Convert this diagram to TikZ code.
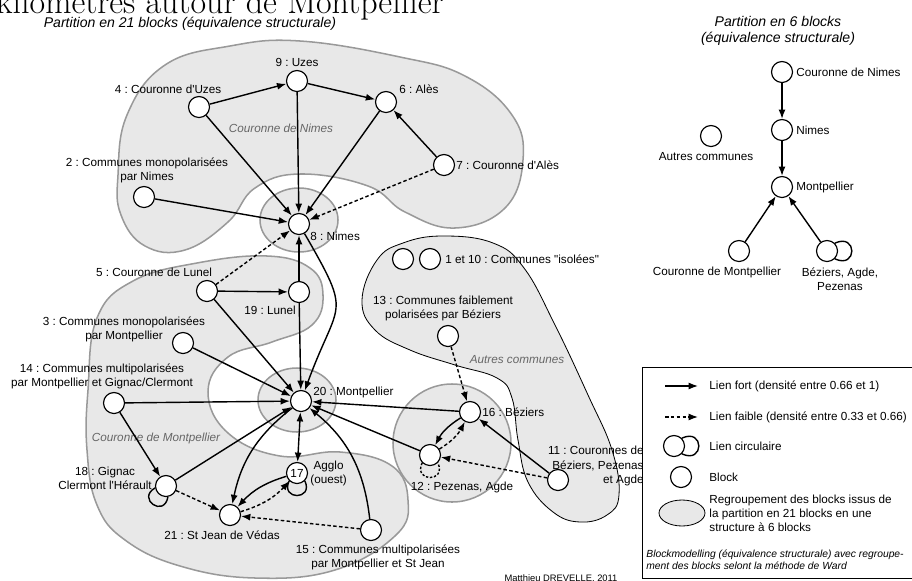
\documentclass[tikz,border=0pt]{standalone}
\usepackage{fontspec}
\setsansfont{Liberation Sans}[Ligatures=TeXOff]
\usetikzlibrary{arrows.meta, shapes.geometric}

\begin{document}
\frenchspacing
\begin{tikzpicture}[
    x=0.03cm, y=-0.03cm, >={Latex[length=2.8mm, width=2.1mm]},
    block/.style={circle, draw, line width=1pt, fill=white, minimum size=0.63cm, inner sep=0pt, font=\sffamily\fontsize{10}{12}\selectfont},
    lbl/.style={font=\sffamily\fontsize{10}{12}\selectfont, align=center, inner sep=1pt},
    grouplbl/.style={font=\sffamily\itshape\fontsize{10}{12}\selectfont, text=black!60, inner sep=1pt},
    strong/.style={->, line width=1.2pt},
    weak/.style={->, line width=1.2pt, dash pattern=on 3pt off 2pt},
    loopline/.style={line width=1.2pt},
    region/.style={fill=black!9, draw=black!40, line width=1.3pt}
]
\useasboundingbox (0,0) rectangle (912,580);

\node (titre) [anchor=base west, inner sep=0pt, font=\rmfamily\fontsize{29}{33}\selectfont] at (-4,13) {kilomètres autour de Montpellier};
\node (titre_21) [font=\sffamily\itshape\fontsize{12}{14}\selectfont] at (190,24) {Partition en 21 blocks (équivalence structurale)};

\draw[region] plot[smooth cycle, tension=0.7] coordinates {(118,175) (127,115) (165,65) (230,46) (300,41) (400,57) (465,76) (512,115) (523,160) (505,208) (455,228) (405,212) (368,186) (300,174) (255,188) (228,222) (185,250) (145,246) (121,215)};
\draw[region] plot[smooth cycle, tension=0.7] coordinates {(88,390) (97,318) (133,281) (197,263) (267,256) (310,268) (323,295) (312,325) (272,342) (228,357) (208,392) (228,433) (280,456) (340,452) (392,466) (408,500) (396,535) (335,570) (255,578) (180,566) (125,540) (97,505) (87,450)};
\draw[region, draw=black, line width=0.7pt] plot[smooth cycle, tension=0.7] coordinates {(362,300) (377,260) (403,243) (443,236) (493,243) (524,268) (555,325) (588,395) (612,450) (619,495) (607,515) (580,522) (553,512) (528,482) (518,440) (512,398) (497,378) (455,365) (410,350) (375,330)};
\draw[region] (299,220) ellipse [x radius=1.17cm, y radius=0.96cm];
\draw[region] (297,400) ellipse [x radius=1.17cm, y radius=0.96cm];
\draw[region] (452,443) circle [radius=1.77cm];

\node (lbl_couronne_nimes) [grouplbl] at (281,128) {Couronne de Nimes};
\node (lbl_couronne_montpellier) [grouplbl] at (156,438) {Couronne de Montpellier};
\node (lbl_autres) [grouplbl] at (517,360) {Autres communes};

\node (couronne_uzes) [block] at (199,107) {};
\node (uzes) [block] at (297,81) {};
\node (ales) [block] at (386,102) {};
\node (couronne_ales) [block] at (444,165) {};
\node (mono_nimes) [block] at (144,197) {};
\node (nimes) [block] at (299,224) {};
\node (couronne_lunel) [block] at (207,291) {};
\node (lunel) [block] at (299,292) {};
\node (mono_montpellier) [block] at (183,343) {};
\node (montpellier) [block] at (301,401) {};
\node (multi_gignac) [block] at (114,403) {};
\node (gignac) [block] at (166,486) {};
\node (agglo) [block] at (297,473) {17};
\node (st_jean) [block] at (230,515) {};
\node (multi_st_jean) [block] at (371,530) {};
\node (isolees_1) [block] at (403,259) {};
\node (isolees_10) [block] at (430,259) {};
\node (faible_beziers) [block] at (448,336) {};
\node (beziers) [block] at (470,412) {};
\node (pezenas) [block] at (430,455) {};
\node (couronnes_beziers) [block] at (558,480) {};

\node (lbl_uzes) [lbl] at (297,62) {9 : Uzes};
\node (lbl_couronne_uzes) [lbl] at (168,89) {4 : Couronne d'Uzes};
\node (lbl_ales) [lbl, anchor=west] at (398,89) {6 : Alès};
\node (lbl_couronne_ales) [lbl, anchor=west] at (455,165) {7 : Couronne d'Alès};
\node (lbl_mono_nimes) [lbl] at (147,170) {2 : Communes monopolarisées\\par Nimes};
\node (lbl_nimes) [lbl, anchor=west] at (309,236) {8 : Nimes};
\node (lbl_couronne_lunel) [lbl] at (154,272) {5 : Couronne de Lunel};
\node (lbl_lunel) [lbl] at (270,310) {19 : Lunel};
\node (lbl_mono_montpellier) [lbl] at (124,329) {3 : Communes monopolarisées\\par Montpellier};
\node (lbl_montpellier) [lbl, anchor=west] at (312,392) {20 : Montpellier};
\node (lbl_multi_gignac) [lbl] at (102,376) {14 : Communes multipolarisées\\par Montpellier et Gignac/Clermont};
\node (lbl_gignac) [lbl] at (105,478) {18 : Gignac\\Clermont l'Hérault};
\node (lbl_agglo) [lbl, anchor=west] at (309,473) {Agglo\\(ouest)};
\node (lbl_st_jean) [lbl] at (222,535) {21 : St Jean de Védas};
\node (lbl_multi_st_jean) [lbl] at (378,557) {15 : Communes multipolarisées\\par Montpellier et St Jean};
\node (lbl_isolees) [lbl, anchor=west] at (444,259) {1 et 10 : Communes "isolées"};
\node (lbl_faible_beziers) [lbl] at (443,308) {13 : Communes faiblement\\polarisées par Béziers};
\node (lbl_beziers) [lbl, anchor=west] at (481,412) {16 : Béziers};
\node (lbl_pezenas) [lbl] at (462,487) {12 : Pezenas, Agde};
\node (lbl_couronnes_beziers) [lbl, anchor=east, align=right] at (645,466) {11 : Couronnes de\\Béziers, Pezenas\\et Agde};

\draw[strong] (couronne_uzes) -- (uzes);
\draw[strong] (uzes) -- (ales);
\draw[strong] (couronne_ales) -- (ales);
\draw[strong] (couronne_uzes) -- (nimes);
\draw[strong] (uzes) -- (nimes);
\draw[strong] (ales) -- (nimes);
\draw[strong] (mono_nimes) -- (nimes);
\draw[weak] (couronne_ales) -- (nimes);
\draw[weak] (couronne_lunel) -- (nimes);
\draw[strong] (lunel) -- (nimes);
\draw[strong] (couronne_lunel) -- (lunel);
\draw[strong] (couronne_lunel) -- (montpellier);
\draw[strong] (lunel) -- (montpellier);
\draw[strong] (nimes) to[out=-60, in=70, looseness=1.6] (montpellier);
\draw[strong] (mono_montpellier) -- (montpellier);
\draw[strong] (multi_gignac) -- (montpellier);
\draw[strong] (multi_gignac) -- (gignac);
\draw[strong] (gignac) -- (montpellier);
\draw[weak] (gignac) -- (st_jean);
\draw[loopline] (gignac.190) .. controls +(210:0.65cm) and +(260:0.65cm) .. (gignac.280);
\draw[strong] (montpellier) to[bend right=20] (st_jean);
\draw[strong, <->] (montpellier) -- (agglo);
\draw[strong] (agglo) to[bend right=15] (st_jean);
\draw[weak] (st_jean) to[bend right=15] (agglo);
\draw[loopline] (agglo.225) .. controls +(245:0.65cm) and +(295:0.65cm) .. (agglo.315);
\draw[strong] (multi_st_jean) to[bend right=22] (montpellier);
\draw[weak] (multi_st_jean) -- (st_jean);
\draw[strong] (beziers) -- (montpellier);
\draw[strong] (pezenas) -- (montpellier);
\draw[weak] (faible_beziers) -- (beziers);
\draw[strong] (couronnes_beziers) -- (beziers);
\draw[weak] (couronnes_beziers) -- (pezenas);
\draw[strong] (beziers) to[bend right=15] (pezenas);
\draw[weak] (pezenas) to[bend right=15] (beziers);
\draw[loopline, dash pattern=on 2pt off 1.5pt] (pezenas.225) .. controls +(245:0.65cm) and +(295:0.65cm) .. (pezenas.315);

\node (titre_6) [lbl, font=\sffamily\itshape\fontsize{12}{14}\selectfont] at (778,31) {Partition en 6 blocks\\(équivalence structurale)};
\node (r_couronne_nimes) [block] at (782,72) {};
\node (r_nimes) [block] at (782,130) {};
\node (r_montpellier) [block] at (782,187) {};
\node (r_autres) [block] at (711,136) {};
\node (r_couronne_montpellier) [block] at (739,251) {};
\node (r_beziers) [block] at (827,251) {};
\node (lbl_r_couronne_nimes) [lbl, anchor=west] at (795,72) {Couronne de Nimes};
\node (lbl_r_nimes) [lbl, anchor=west] at (795,130) {Nimes};
\node (lbl_r_montpellier) [lbl, anchor=west] at (795,187) {Montpellier};
\node (lbl_r_autres) [lbl] at (706,157) {Autres communes};
\node (lbl_r_couronne_montpellier) [lbl] at (717,272) {Couronne de Montpellier};
\node (lbl_r_beziers) [lbl] at (840,279) {Béziers, Agde,\\Pezenas};
\draw[strong] (r_couronne_nimes) -- (r_nimes);
\draw[strong] (r_nimes) -- (r_montpellier);
\draw[strong] (r_couronne_montpellier) -- (r_montpellier);
\draw[strong] (r_beziers) -- (r_montpellier);
\draw[loopline] (r_beziers.45) .. controls +(25:0.75cm) and +(-25:0.75cm) .. (r_beziers.-45);

\draw[line width=0.8pt] (642,367) rectangle (920,578);
\coordinate (fort_a) at (665,386);
\coordinate (fort_b) at (698,386);
\coordinate (faible_a) at (665,417);
\coordinate (faible_b) at (698,417);
\draw[strong] (fort_a) -- (fort_b);
\draw[weak] (faible_a) -- (faible_b);
\node (leg_circ) [block] at (674,446) {};
\draw[loopline] (leg_circ.45) .. controls +(25:0.75cm) and +(-25:0.75cm) .. (leg_circ.-45);
\node (leg_block) [block] at (681,477) {};
\draw[region, draw=black, line width=0.7pt] (682,513) ellipse [x radius=0.69cm, y radius=0.39cm];
\node (lbl_fort) [lbl, anchor=west] at (708,386) {Lien fort (densité entre 0.66 et 1)};
\node (lbl_faible) [lbl, anchor=west] at (708,417) {Lien faible (densité entre 0.33 et 0.66)};
\node (lbl_circ) [lbl, anchor=west] at (708,446) {Lien circulaire};
\node (lbl_block) [lbl, anchor=west] at (708,477) {Block};
\node (lbl_regroup) [lbl, anchor=west, align=left] at (708,513) {Regroupement des blocks issus de\\la partition en 21 blocks en une\\structure à 6 blocks};
\node (lbl_ward) [lbl, anchor=west, align=left, font=\sffamily\itshape\fontsize{8.8}{10.5}\selectfont] at (645,560) {Blockmodelling (équivalence structurale) avec regroupe-\\ment des blocks selont la méthode de Ward};
\node (auteur) [lbl, font=\sffamily\fontsize{8}{10}\selectfont] at (561,579) {Matthieu DREVELLE, 2011};
\end{tikzpicture}
\end{document}
